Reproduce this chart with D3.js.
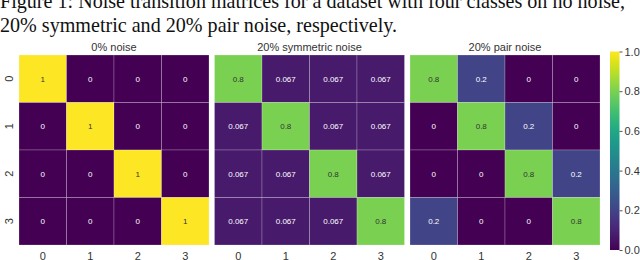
<!DOCTYPE html>
<html>
<head>
<meta charset="utf-8">
<script src="https://cdn.jsdelivr.net/npm/d3@7"></script>
<style>
  body { margin: 0; background: #fff; }
  svg { display: block; }
</style>
</head>
<body>
<svg id="chart" width="640" height="260"></svg>
<script>
var classes = [0, 1, 2, 3];
var panelTitles = ["0% noise", "20% symmetric noise", "20% pair noise"];
var noNoise = [
  [1, 0, 0, 0],
  [0, 1, 0, 0],
  [0, 0, 1, 0],
  [0, 0, 0, 1]
];
var symmetric = [
  [0.8, 0.067, 0.067, 0.067],
  [0.067, 0.8, 0.067, 0.067],
  [0.067, 0.067, 0.8, 0.067],
  [0.067, 0.067, 0.067, 0.8]
];
var pair = [
  [0.8, 0.2, 0, 0],
  [0, 0.8, 0.2, 0],
  [0, 0, 0.8, 0.2],
  [0.2, 0, 0, 0.8]
];
var colorTicks = [0, 0.2, 0.4, 0.6, 0.8, 1.0];
var captionLines = [
  "Figure 1: Noise transition matrices for a dataset with four classes on no noise,",
  "20% symmetric and 20% pair noise, respectively."
];

var matrices = [noNoise, symmetric, pair];
var svg = d3.select("#chart");
var color = d3.scaleSequential(d3.interpolateViridis).domain([0, 1]);

// caption
svg.selectAll("text.caption")
  .data(captionLines)
  .enter().append("text")
  .attr("class", "caption")
  .attr("x", 0)
  .attr("y", function(d, i) { return 8 + i * 23.5; })
  .style("font-family", "'Liberation Serif', 'Times New Roman', serif")
  .style("font-size", "20.1px")
  .style("fill", "#111")
  .text(function(d) { return d; });

var panelX = [19, 214.5, 410];
var panelW = 190, gridTop = 55, panelH = 190;

var y = d3.scaleBand().domain(classes).range([gridTop, gridTop + panelH]);

matrices.forEach(function(m, p) {
  var x = d3.scaleBand().domain(classes).range([panelX[p], panelX[p] + panelW]);
  var g = svg.append("g");

  var cells = [];
  m.forEach(function(row, r) {
    row.forEach(function(v, c) { cells.push({r: r, c: c, v: v}); });
  });

  g.selectAll("rect")
    .data(cells)
    .enter().append("rect")
    .attr("x", function(d) { return x(d.c); })
    .attr("y", function(d) { return y(d.r); })
    .attr("width", x.bandwidth())
    .attr("height", y.bandwidth())
    .attr("fill", function(d) { return color(d.v); })
    .attr("stroke", "rgba(255,255,255,0.35)")
    .attr("stroke-width", 0.6);

  g.selectAll("text.val")
    .data(cells)
    .enter().append("text")
    .attr("class", "val")
    .attr("x", function(d) { return x(d.c) + x.bandwidth() / 2; })
    .attr("y", function(d) { return y(d.r) + y.bandwidth() / 2 + 3; })
    .attr("text-anchor", "middle")
    .style("font-family", "'Liberation Sans', Arial, sans-serif")
    .style("font-size", "8px")
    .style("fill", function(d) { return d.v > 0.5 ? "#333" : "#fff"; })
    .text(function(d) { return d3.format("")(d.v); });

  // panel title
  g.append("text")
    .attr("x", panelX[p] + panelW / 2)
    .attr("y", 50.5)
    .attr("text-anchor", "middle")
    .style("font-family", "'Liberation Sans', Arial, sans-serif")
    .style("font-size", "11px")
    .style("fill", "#333")
    .text(panelTitles[p]);

  // x axis
  var xAxis = g.append("g")
    .attr("transform", "translate(0," + (gridTop + panelH) + ")")
    .call(d3.axisBottom(x).tickSize(0).tickPadding(7));
  xAxis.select(".domain").remove();
  xAxis.selectAll("text")
    .style("font-family", "'Liberation Sans', Arial, sans-serif")
    .style("font-size", "11px")
    .style("fill", "#333");
});

// y axis on first panel, rotated labels
var yAxis = svg.append("g")
  .attr("transform", "translate(" + panelX[0] + ",0)")
  .call(d3.axisLeft(y).tickSize(0).tickPadding(5));
yAxis.select(".domain").remove();
yAxis.selectAll(".tick").attr("transform", null);
yAxis.selectAll("text")
  .attr("text-anchor", "middle")
  .attr("transform", "rotate(-90)")
  .attr("x", function(d) { return -y(d) - y.bandwidth() / 2; })
  .attr("y", -6)
  .attr("dy", "0")
  .style("font-family", "'Liberation Sans', Arial, sans-serif")
  .style("font-size", "11px")
  .style("fill", "#333");

// colorbar
var cbX = 610, cbW = 9.5, cbTop = 51.5, cbBot = 250;
var defs = svg.append("defs");
var grad = defs.append("linearGradient")
  .attr("id", "viridis")
  .attr("x1", "0").attr("y1", "1").attr("x2", "0").attr("y2", "0");
d3.range(0, 1.0001, 0.05).forEach(function(t) {
  grad.append("stop").attr("offset", t).attr("stop-color", color(t));
});
svg.append("rect")
  .attr("x", cbX).attr("y", cbTop)
  .attr("width", cbW).attr("height", cbBot - cbTop)
  .attr("fill", "url(#viridis)");

var cbScale = d3.scaleLinear().domain([0, 1]).range([cbBot, cbTop]);
var cbAxis = svg.append("g")
  .attr("transform", "translate(" + (cbX + cbW) + ",0)")
  .call(d3.axisRight(cbScale).tickValues(colorTicks).tickFormat(d3.format(".1f")).tickSize(3).tickPadding(2));
cbAxis.select(".domain").remove();
cbAxis.selectAll("line").attr("stroke", "#555");
cbAxis.selectAll("text")
  .style("font-family", "'Liberation Sans', Arial, sans-serif")
  .style("font-size", "11px")
  .style("fill", "#333");
</script>
</body>
</html>
